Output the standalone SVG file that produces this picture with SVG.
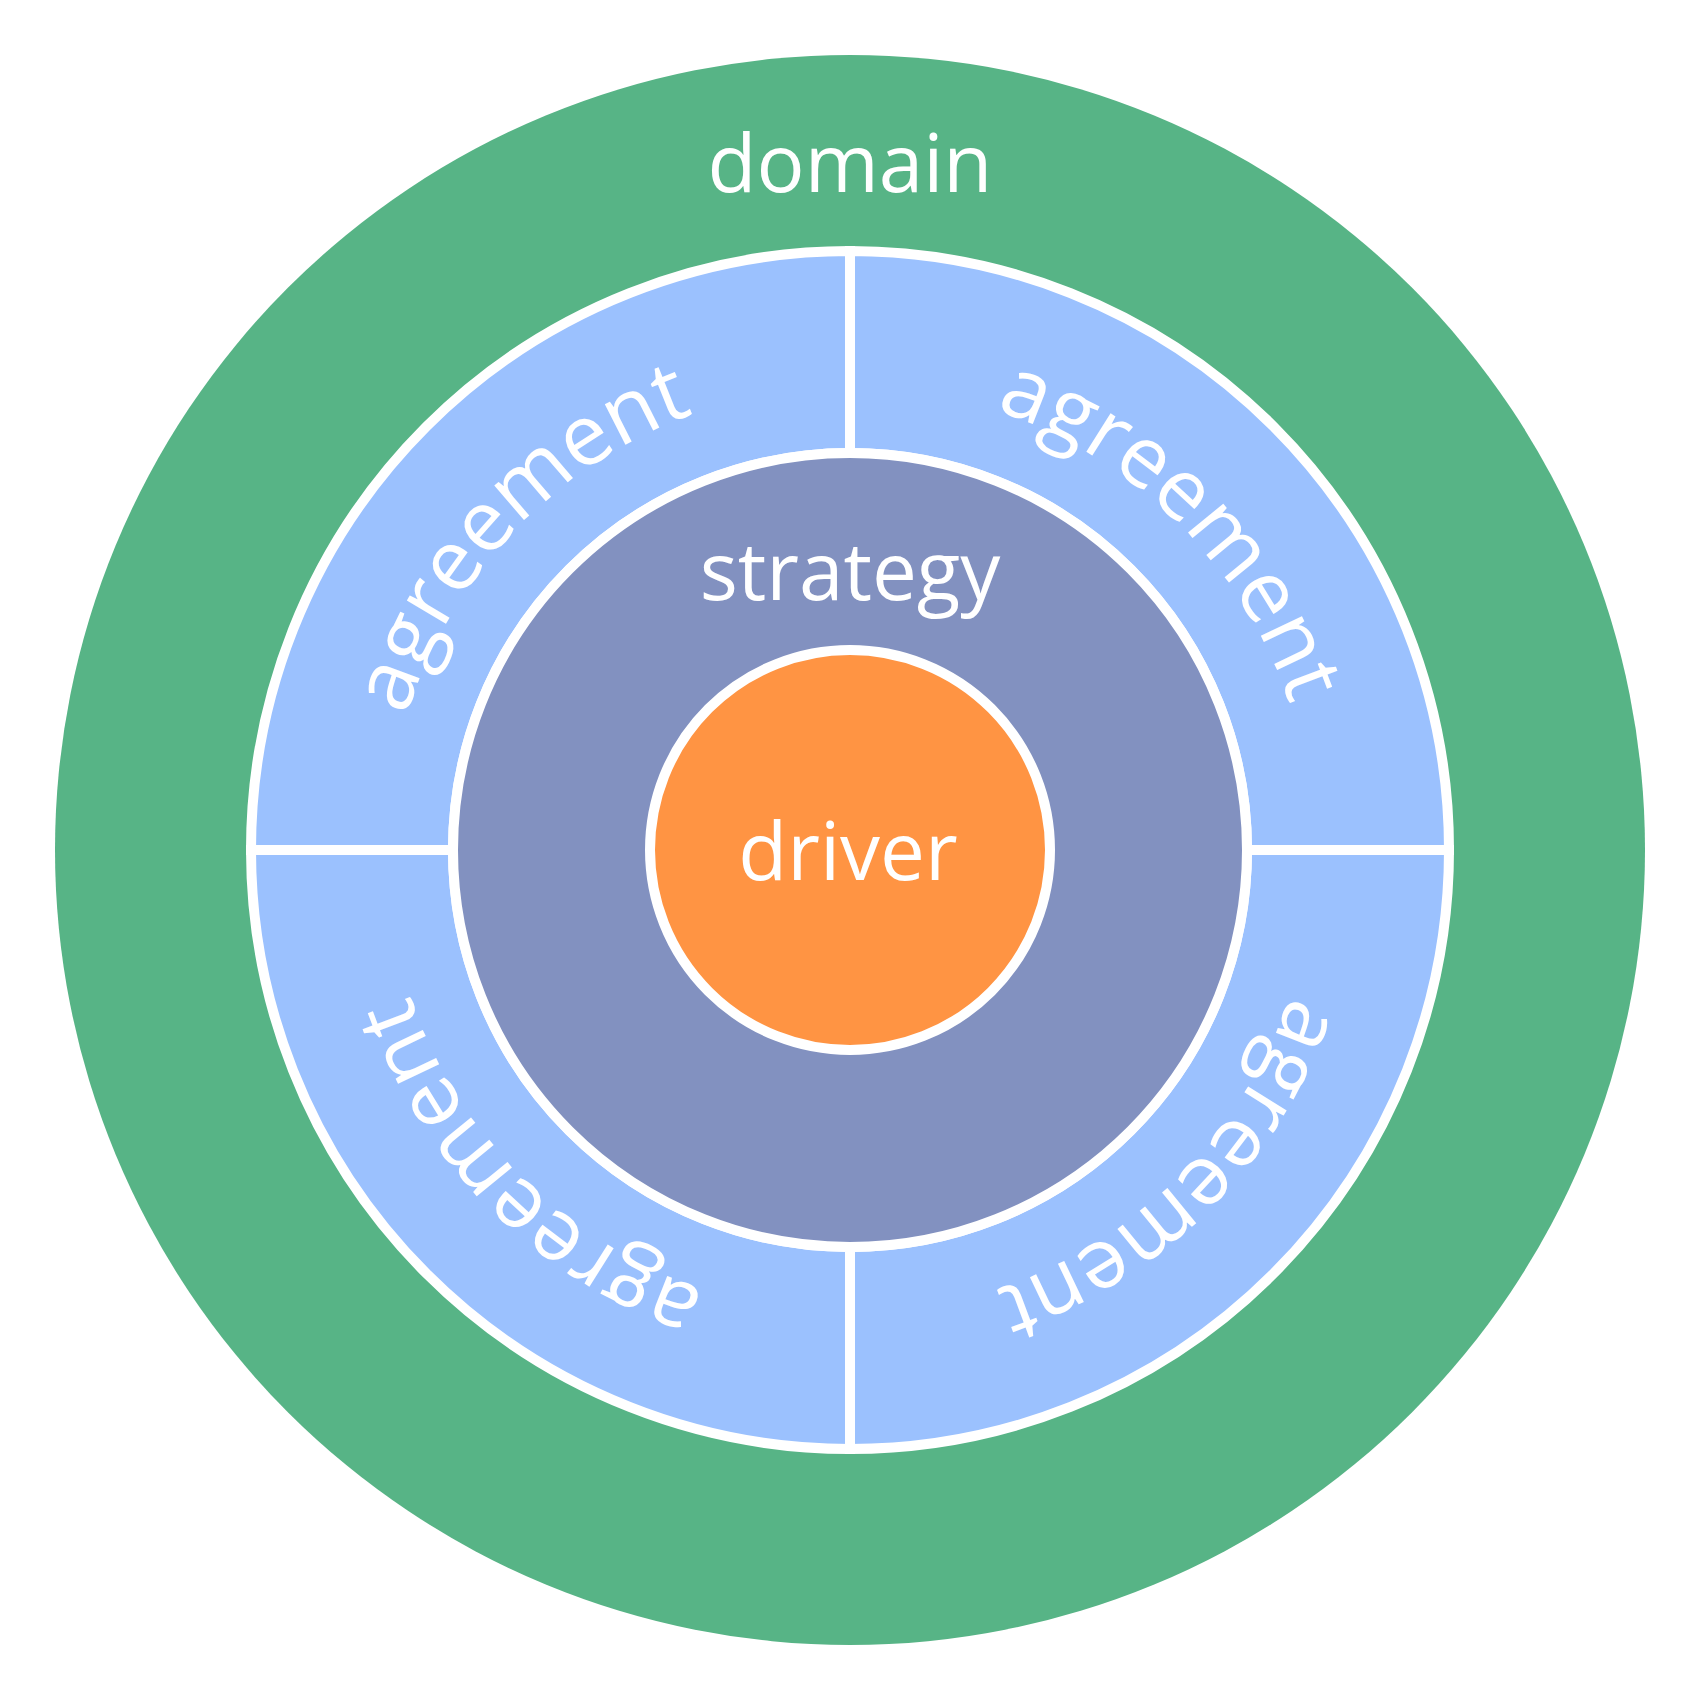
<svg xmlns="http://www.w3.org/2000/svg" xmlns:xlink="http://www.w3.org/1999/xlink" width="1700" height="1700" viewBox="0 0 1700 1700">
  <style>
    .lbl { font-family: "Open Sans", "Liberation Sans", sans-serif; font-size: 80px; fill: #ffffff; }
    .arc { font-size: 85px; }
    .sector { fill: #9bc1fe; stroke: #ffffff; stroke-width: 10; }
  </style>
  <defs>
    <path id="arcTL" d="M 517.7 1182.3 A 470 470 0 0 1 1182.3 517.7"/>
    <path id="arcTR" d="M 517.7 517.7 A 470 470 0 0 1 1182.3 1182.3"/>
    <path id="arcBR" d="M 1182.3 517.7 A 470 470 0 0 1 517.7 1182.3"/>
    <path id="arcBL" d="M 1182.3 1182.3 A 470 470 0 0 1 517.7 517.7"/>
  </defs>
  <rect width="1700" height="1700" fill="#ffffff"/>
  <g id="domain">
    <circle cx="850" cy="850" r="795" fill="#57b486"/>
    <text class="lbl" x="850" y="192" text-anchor="middle">domain</text>
  </g>
  <g id="agreement-tl">
    <path class="sector" d="M 251 850 A 599 599 0 0 1 850 251 L 850 453 A 397 397 0 0 0 453 850 Z"/>
    <text class="lbl arc"><textPath xlink:href="#arcTL" href="#arcTL" startOffset="49.2%" text-anchor="middle">agreement</textPath></text>
  </g>
  <g id="agreement-tr">
    <path class="sector" d="M 850 251 A 599 599 0 0 1 1449 850 L 1247 850 A 397 397 0 0 0 850 453 Z"/>
    <text class="lbl arc"><textPath xlink:href="#arcTR" href="#arcTR" startOffset="50%" text-anchor="middle">agreement</textPath></text>
  </g>
  <g id="agreement-br">
    <path class="sector" d="M 1449 850 A 599 599 0 0 1 850 1449 L 850 1247 A 397 397 0 0 0 1247 850 Z"/>
    <text class="lbl arc"><textPath xlink:href="#arcBR" href="#arcBR" startOffset="50%" text-anchor="middle">agreement</textPath></text>
  </g>
  <g id="agreement-bl">
    <path class="sector" d="M 850 1449 A 599 599 0 0 1 251 850 L 453 850 A 397 397 0 0 0 850 1247 Z"/>
    <text class="lbl arc"><textPath xlink:href="#arcBL" href="#arcBL" startOffset="50%" text-anchor="middle">agreement</textPath></text>
  </g>
  <g id="strategy">
    <circle cx="850" cy="850" r="397" fill="#8291c0" stroke="#ffffff" stroke-width="10"/>
    <text class="lbl" x="850" y="600" text-anchor="middle">strategy</text>
  </g>
  <g id="driver">
    <circle cx="850" cy="850" r="200" fill="#ff9443" stroke="#ffffff" stroke-width="10"/>
    <text class="lbl" x="848" y="880" text-anchor="middle">driver</text>
  </g>
  <g id="connectors"></g>
</svg>
